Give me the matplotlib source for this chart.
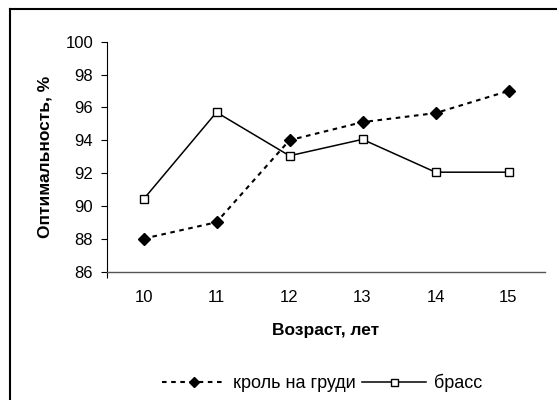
import matplotlib
matplotlib.use("Agg")
import matplotlib.pyplot as plt
from matplotlib.lines import Line2D

plt.rcParams['font.family'] = ['Liberation Sans', 'DejaVu Sans']

ages = ['10', '11', '12', '13', '14', '15']
krol = [88.0, 89.0, 94.0, 95.1, 95.65, 97.0]
brass = [90.4, 95.7, 93.05, 94.05, 92.05, 92.05]
yticks = [86, 88, 90, 92, 94, 96, 98, 100]

fig = plt.figure(figsize=(5.57, 4.0), dpi=100)
ax = fig.add_axes([107/557, 1-271.5/400, (545-107)/557, (271.5-41.7)/400])

x = list(range(len(ages)))
ax.plot(x, krol, color='black', linestyle=(0, (2.2, 2.2)), linewidth=1.5,
        marker='D', markersize=6.5, markerfacecolor='black', markeredgecolor='black',
        label='кроль на груди')
ax.plot(x, brass, color='black', linestyle='-', linewidth=1.1,
        marker='s', markersize=6.3, markerfacecolor='white', markeredgecolor='black',
        markeredgewidth=1.0, label='брасс')

ax.set_xlim(-0.5, len(ages) - 0.5)
ax.set_ylim(86, 100)
ax.set_yticks(yticks)
ax.set_xticks(x)
ax.set_xticklabels(ages)
ax.tick_params(axis='x', length=0, pad=13, labelsize=12)
ax.tick_params(axis='y', direction='out', length=4, width=0.8, pad=6, labelsize=12)
ax.set_xticks([-0.5], minor=True)
ax.tick_params(axis='x', which='minor', direction='out', length=4, width=0.8)

for s in ['top', 'right']:
    ax.spines[s].set_visible(False)
ax.spines['left'].set_linewidth(0.8)
ax.spines['bottom'].set_linewidth(1.0)
ax.spines['bottom'].set_color('#555555')

ax.set_ylabel('Оптимальность, %', fontsize=12.5, fontweight='bold', labelpad=9)
ax.set_xlabel('Возраст, лет', fontsize=12.5, fontweight='bold', labelpad=13)

fig.legend(loc='center', bbox_to_anchor=(322/557, 1-383/400), ncol=2, frameon=False,
           fontsize=13, handlelength=3.5, handletextpad=0.45, columnspacing=0.35,
           borderaxespad=0, markerscale=0.8)

fig.add_artist(Line2D([9.5/557, 9.5/557], [0, 1-9/400], transform=fig.transFigure,
                      color='black', linewidth=1.5))
fig.add_artist(Line2D([9.5/557, 1], [1-9/400, 1-9/400], transform=fig.transFigure,
                      color='black', linewidth=1.5))

fig.savefig('out.png', dpi=100)
